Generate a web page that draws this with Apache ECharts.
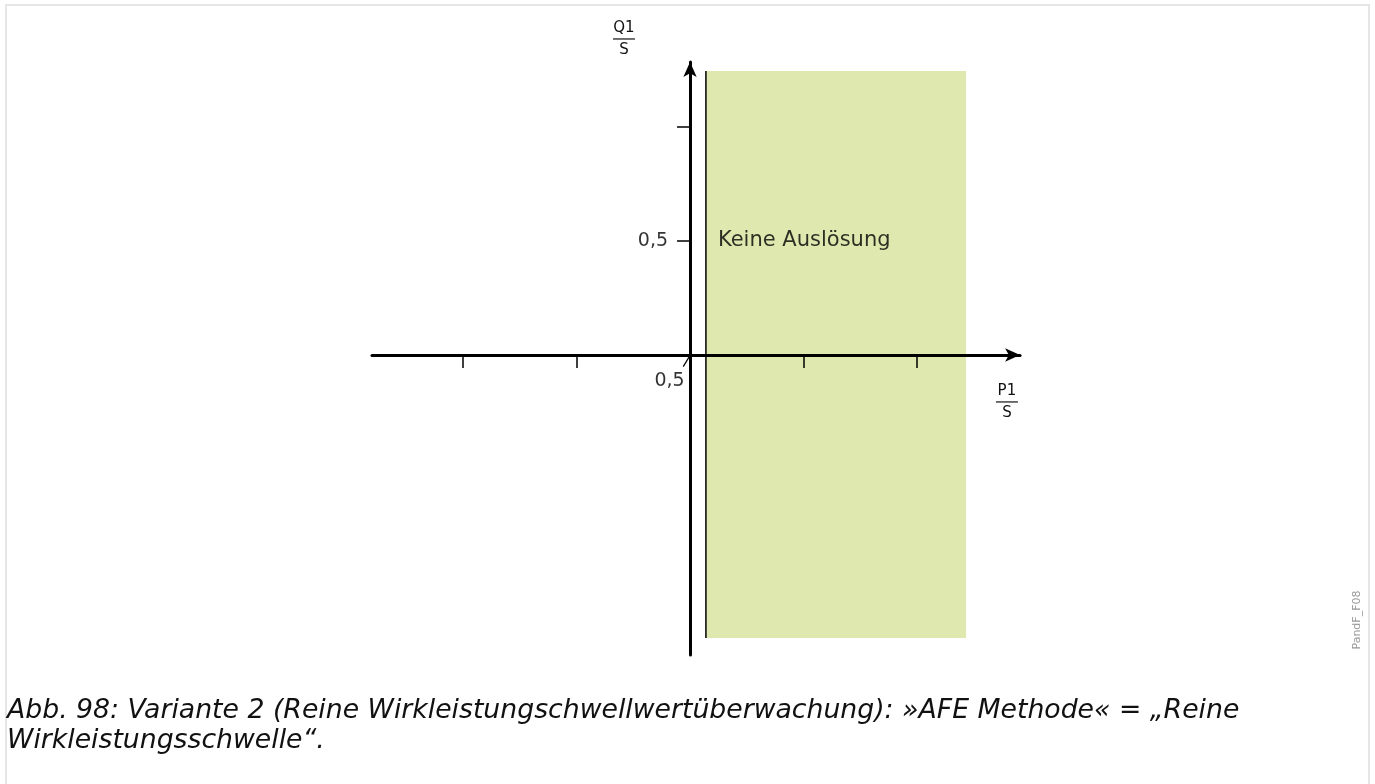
<!DOCTYPE html>
<html>
<head>
<meta charset="utf-8">
<script src="https://cdn.jsdelivr.net/npm/echarts@6/dist/echarts.min.js"></script>
<style>html,body{margin:0;padding:0;background:#fff;}#c{width:1375px;height:784px;}</style>
</head>
<body>
<div id="c"></div>
<script>
// ---- data ----
const xRange = [-1.401, 1.454];
const yRange = [-1.316, 1.285];
const xTicks = [-1, -0.5, 0.5, 1];
const yTicks = [0.5, 1];
const yLabelValues = [0.5];
const zoneX = [0.07, 1.216];
const zoneY = [-1.241, 1.246];
const zoneLabel = 'Keine Auslösung';
const zoneLabelPoint = [0.123, 0.5];
const originLabel = '0,5';
const originLabelPoint = [-0.09, -0.114];
const originMark = [[-0.003, -0.007], [-0.03, -0.051]];
const yName = ['Q1', 'S'];
const yNamePoint = [-0.291, 1.386];
const xName = ['P1', 'S'];
const xNamePoint = [1.396, -0.206];
const caption = 'Abb. 98: Variante 2 (Reine Wirkleistungschwellwertüberwachung): »AFE Methode« = „Reine\nWirkleistungsschwelle“.';
const sideTag = 'PandF_F08';

const FONT = 'DejaVu Sans';
const chart = echarts.init(document.getElementById('c'), null, {renderer: 'canvas'});

const fmt = v => String(v).replace('.', ',');

const option = {
  animation: false,
  backgroundColor: '#ffffff',
  textStyle: {fontFamily: FONT},
  grid: {left: 372, top: 62, width: (xRange[1] - xRange[0]) * 227, height: (yRange[1] - yRange[0]) * 228},
  xAxis: {
    type: 'value', min: xRange[0], max: xRange[1], z: 10,
    splitLine: {show: false},
    axisLine: {show: true, onZero: true, symbol: ['none', 'arrow'], symbolSize: [10, 15], lineStyle: {color: '#000', width: 3}},
    axisTick: {show: true, customValues: xTicks, length: 13, lineStyle: {color: '#000', width: 1.5}},
    axisLabel: {show: false}
  },
  yAxis: {
    type: 'value', min: yRange[0], max: yRange[1], z: 10,
    splitLine: {show: false},
    axisLine: {show: true, onZero: true, symbol: ['none', 'arrow'], symbolSize: [10, 15], lineStyle: {color: '#000', width: 3}},
    axisTick: {show: true, customValues: yTicks, length: 13, lineStyle: {color: '#000', width: 1.5}},
    axisLabel: {show: false}
  },
  series: [
    {
      type: 'line', symbol: 'none', silent: true, z: 3,
      data: [[zoneX[0], zoneY[0]], [zoneX[0], zoneY[1]]],
      lineStyle: {color: '#000', width: 1.5},
      markArea: {
        silent: true,
        itemStyle: {color: '#dfe8af', opacity: 1},
        data: [[{coord: [zoneX[0], zoneY[0]]}, {coord: [zoneX[1], zoneY[1]]}]]
      }
    },
    {
      type: 'line', symbol: 'none', silent: true, z: 3,
      data: originMark,
      lineStyle: {color: '#000', width: 1.2}
    },
    {
      type: 'scatter', symbolSize: 0, silent: true, z: 12,
      data: [
        {value: zoneLabelPoint, name: zoneLabel, label: {position: 'right', distance: 0, fontSize: 21}},
        {value: originLabelPoint, name: originLabel, label: {position: 'inside'}}
      ].concat(yLabelValues.map(v => ({value: [0, v], name: fmt(v), label: {position: 'left', distance: 22}}))),
      label: {show: true, formatter: p => p.name, fontSize: 19, color: '#000', textBorderWidth: 0, fontFamily: FONT}
    }
  ]
};
chart.setOption(option);

function fraction(parts, pt) {
  const p = chart.convertToPixel({gridIndex: 0}, pt);
  return [
    {type: 'text', x: p[0], y: p[1] - 11, style: {text: parts[0], font: '15px "' + FONT + '"', fill: '#111', align: 'center', verticalAlign: 'middle'}},
    {type: 'line', shape: {x1: p[0] - 11, y1: p[1], x2: p[0] + 11, y2: p[1]}, style: {stroke: '#111', lineWidth: 1.2}},
    {type: 'text', x: p[0], y: p[1] + 11, style: {text: parts[1], font: '15px "' + FONT + '"', fill: '#111', align: 'center', verticalAlign: 'middle'}}
  ];
}

chart.setOption({
  graphic: [
    {type: 'rect', shape: {x: 6, y: 5, width: 1363, height: 900}, style: {fill: 'none', stroke: '#e6e6e6', lineWidth: 2}, silent: true},
    ...fraction(yName, yNamePoint),
    ...fraction(xName, xNamePoint),
    {type: 'text', x: 1357, y: 620, rotation: Math.PI / 2, style: {text: sideTag, font: '11px "' + FONT + '"', fill: '#999', align: 'center', verticalAlign: 'middle'}},
    {type: 'text', x: 7, y: 696, style: {text: caption, font: 'italic 26.7px "' + FONT + '"', fill: '#111', lineHeight: 30}}
  ]
});
</script>
</body>
</html>
